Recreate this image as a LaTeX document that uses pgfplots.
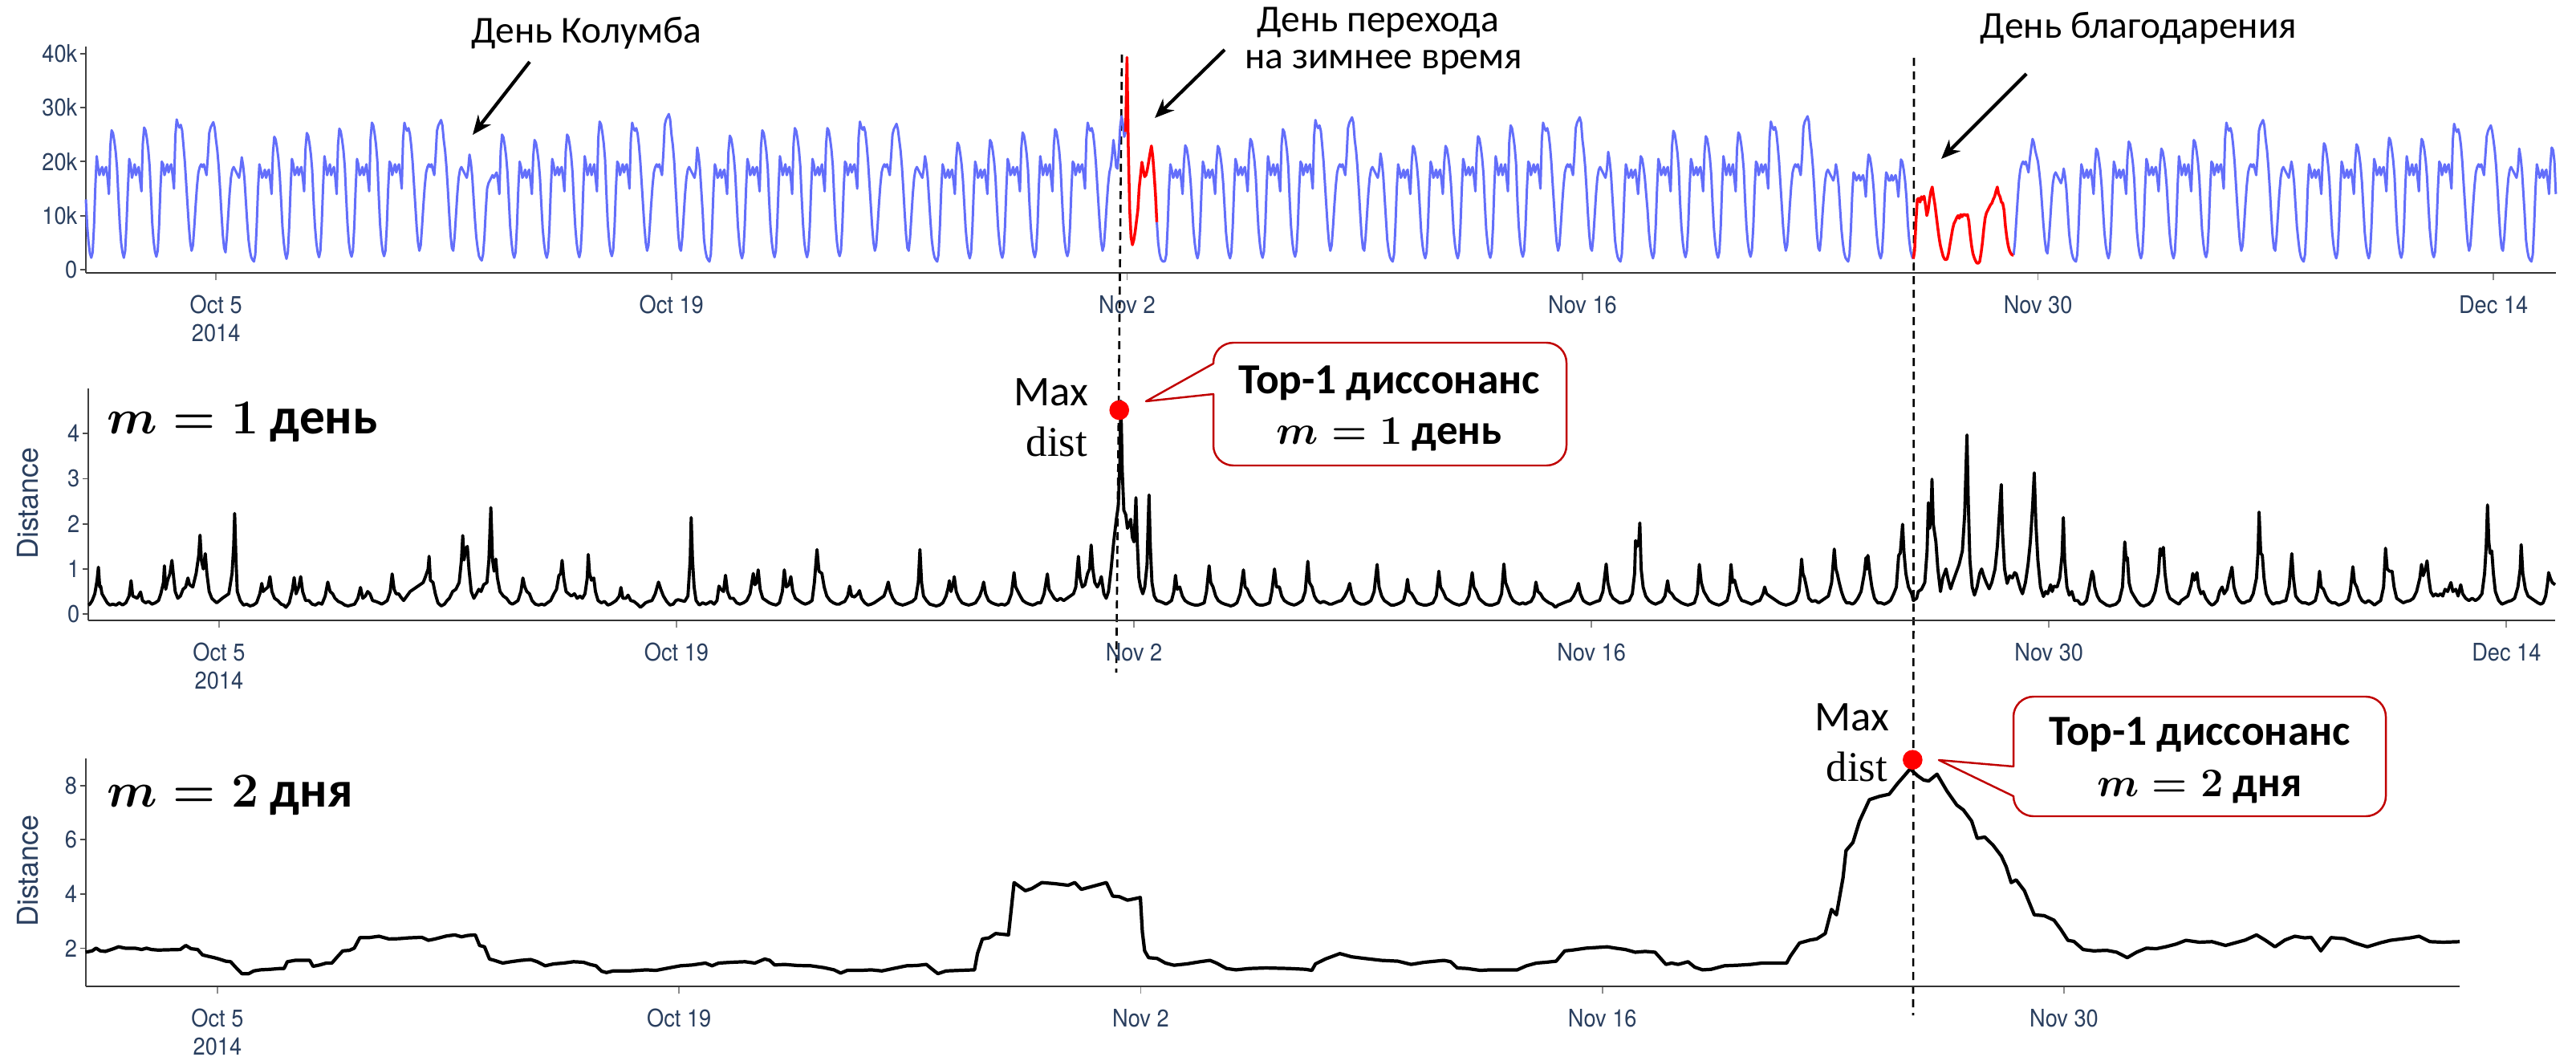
\documentclass[border=0pt]{standalone}
\usepackage{fontspec}
\usepackage{pgfplots}
\pgfplotsset{compat=1.18}
\usepackage{pgfplotstable}
\usetikzlibrary{arrows.meta}
\setmainfont{Carlito}
\newfontfamily\tickfont[FakeStretch=0.9]{TeX Gyre Heros}
\newfontfamily\labfont{TeX Gyre Heros}
\newfontfamily\distfont{Liberation Serif}
\definecolor{plotblue}{RGB}{99,110,250}
\definecolor{ticktext}{RGB}{42,63,95}
\definecolor{callred}{RGB}{192,0,0}

% NYC taxi passengers (thousands), hourly, Oct 1 2014 00:00 = row 0
\pgfplotstableread[row sep=\\,header=false]{
13\\8\\5\\3\\2.2\\3.2\\8\\15.5\\21\\19\\17.5\\18.5\\19\\17.5\\18.5\\19\\17\\14\\22.8\\25.8\\25.3\\23.8\\21.8\\18.8\\
13.5\\8.5\\5\\3.2\\2.2\\3.5\\8.5\\15\\20.5\\19.5\\17\\18\\19.5\\17.5\\18.5\\19\\16.5\\14.5\\23.3\\26.3\\25.8\\24.3\\22.3\\19.3\\
14\\8.5\\5.2\\3.3\\2.4\\3.5\\8\\15\\20\\19.5\\17.5\\18.5\\19.5\\18\\19\\19.5\\17.5\\15\\24.8\\27.8\\26.8\\26.3\\26.8\\25.8\\
23\\20\\16\\12\\8\\5\\3.5\\4.5\\8\\12\\15.5\\18\\19\\19.5\\19\\19.5\\18.5\\17.5\\21\\25.3\\26.3\\26.8\\27.3\\26.3\\
24\\22\\19\\15\\10.5\\6.5\\4\\3.2\\6\\10\\14\\17\\18.5\\19\\18.5\\18\\17.5\\17\\18.5\\20.8\\19.3\\16.8\\12.8\\8.8\\
5.5\\3.5\\2.3\\1.8\\1.5\\2.8\\8\\15\\19.5\\18.5\\17\\17.5\\18.5\\17\\18\\18.5\\16.5\\14\\21.6\\24.6\\24.1\\22.6\\20.6\\17.6\\
13\\8\\5\\3\\2\\3.2\\8\\15\\20.5\\19.5\\17.5\\18\\19\\17.5\\18.5\\19\\17\\14.5\\22.3\\25.3\\24.8\\23.3\\21.3\\18.3\\
12.5\\8\\5\\3.2\\2.3\\3.5\\8.5\\15.5\\21\\19.5\\17.5\\18.5\\19.5\\17.5\\18.5\\19\\17\\14\\23.1\\26.1\\25.6\\24.1\\22.1\\19.1\\
13.5\\8.5\\5\\3.2\\2.4\\3.5\\8\\15\\20.5\\19.5\\17.5\\18\\19\\17.5\\18.5\\19.5\\17\\14.5\\24.2\\27.2\\26.7\\25.2\\23.2\\20.2\\
14\\8.5\\5.2\\3.3\\2.5\\3.5\\8\\15\\20\\19.5\\17.5\\18.5\\19.5\\18\\19\\19.5\\17.5\\15\\24.2\\27.2\\26.2\\25.7\\26.2\\25.2\\
23\\20\\16\\12\\8\\5\\3.5\\4.5\\8\\12\\15.5\\18\\19\\19.5\\19\\19.5\\18.5\\17.5\\21\\25.7\\26.7\\27.2\\27.7\\26.7\\
24\\22\\19\\15\\10.5\\6.5\\4\\3.5\\6\\10\\14\\17\\18.5\\19\\18.5\\18\\17.5\\17\\18.5\\21.3\\19.8\\17.3\\13.3\\9.3\\
6\\4\\2.5\\2\\1.7\\2.8\\6\\11\\15\\16\\16.5\\17\\17.5\\17\\17.5\\18\\16.5\\14\\22\\25\\24.5\\23\\21\\18\\
13\\8\\5\\3\\2.2\\3.2\\8\\15\\20\\19\\17\\17.5\\18.5\\17\\18\\18.5\\16.5\\14\\21\\24\\23.5\\22\\20\\17\\
12\\7.5\\4.8\\3\\2.2\\3.3\\8\\15\\20.5\\19.5\\17.5\\18\\19\\17.5\\18.5\\19\\17\\14.5\\22\\25\\24.5\\23\\21\\18\\
12.5\\8\\5\\3.2\\2.3\\3.5\\8\\15.5\\21\\19.5\\17.5\\18.5\\19.5\\17.5\\18.5\\19.5\\17\\14.5\\24.4\\27.4\\26.9\\25.4\\23.4\\20.4\\
14\\8.5\\5.3\\3.3\\2.5\\3.6\\8\\15\\20\\19.5\\17.5\\18.5\\19.5\\18\\19\\19.5\\17.5\\15\\24.2\\27.2\\26.2\\25.7\\26.2\\25.2\\
23\\20\\16\\12\\8\\5\\3.5\\4.5\\8\\12\\15.5\\18\\19\\19.5\\19\\19.5\\18.5\\17.5\\21.5\\26.8\\27.8\\28.3\\28.8\\27.8\\
25\\23\\20\\15.5\\11\\6.5\\4\\3.5\\6\\10\\14\\17\\18.5\\19\\18.5\\18\\17.5\\17\\18.5\\22.6\\21.1\\18.6\\14.6\\10.6\\
5.5\\3.5\\2.3\\1.8\\1.5\\2.8\\8\\15\\19.5\\18.5\\17\\17.5\\18.5\\17\\18\\18.5\\16.5\\14\\21.8\\24.8\\24.3\\22.8\\20.8\\17.8\\
13\\8\\5\\3\\2.1\\3.2\\8\\15\\20.5\\19.5\\17.5\\18\\19\\17.5\\18.5\\19\\17\\14.5\\22.8\\25.8\\25.3\\23.8\\21.8\\18.8\\
13\\8\\5\\3.2\\2.3\\3.5\\8.5\\15.5\\21\\19.5\\17.5\\18.5\\19.5\\17.5\\18.5\\19\\17\\14\\23.2\\26.2\\25.7\\24.2\\22.2\\19.2\\
13.5\\8.5\\5\\3.2\\2.3\\3.5\\8\\15\\20.5\\19.5\\17.5\\18\\19\\17.5\\18.5\\19.5\\17\\14.5\\23.2\\26.2\\25.7\\24.2\\22.2\\19.2\\
13.5\\8.5\\5.2\\3.3\\2.5\\3.5\\8\\15\\20\\19.5\\17.5\\18.5\\19.5\\18\\19\\19.5\\17.5\\15\\24.4\\27.4\\26.4\\25.9\\26.4\\25.4\\
23\\20\\16\\12\\8\\5\\3.5\\4.5\\8\\12\\15.5\\18\\19\\19.5\\19\\19.5\\18.5\\17.5\\21\\25\\26\\26.5\\27\\26\\
24\\22\\19\\15\\10.5\\6.5\\4\\3.5\\6\\10\\14\\17\\18.5\\19\\18.5\\18\\17.5\\17\\18.5\\21\\19.5\\17\\13\\9\\
5.5\\3.5\\2.3\\1.8\\1.5\\2.8\\8\\15\\19.5\\18.5\\17\\17.5\\18.5\\17\\18\\18.5\\16.5\\14\\20.5\\23.5\\23\\21.5\\19.5\\16.5\\
12\\7.5\\4.8\\3\\2.1\\3.2\\8\\15\\20\\19\\17\\17.5\\18.5\\17\\18\\18.5\\16.5\\14\\21\\24\\23.5\\22\\20\\17\\
12\\7.5\\4.8\\3\\2.2\\3.3\\8\\15\\20.5\\19.5\\17.5\\18\\19\\17.5\\18.5\\19\\17\\14.5\\22.4\\25.4\\24.9\\23.4\\21.4\\18.4\\
12.5\\8\\5\\3.2\\2.3\\3.5\\8\\15.5\\21\\19.5\\17.5\\18.5\\19.5\\17.5\\18.5\\19.5\\17\\14.5\\23\\26\\25.5\\24\\22\\19\\
13.5\\8.5\\5.2\\3.3\\2.5\\3.5\\8\\15\\20\\19.5\\17.5\\18.5\\19.5\\18\\19\\19.5\\17.5\\15\\24.2\\27.2\\26.2\\25.7\\26.2\\25.2\\
23\\20\\16\\12\\8\\5\\3.5\\4.5\\8\\12\\15.5\\18\\19\\21\\24\\22\\19\\18.7\\22\\26.5\\28.4\\27\\24.6\\25.5\\
}\segA
% rows 790 .. 1348
\pgfplotstableread[row sep=\\,header=false]{
8.8\\5\\
3\\2\\1.6\\1.5\\1.6\\2.8\\8\\15\\19.5\\18.5\\17\\17.5\\18.5\\17\\18\\18.5\\16.5\\14\\20\\23\\22.5\\21\\19\\16\\
12\\7.5\\4.8\\3\\2.1\\3.2\\8\\15\\20\\19\\17\\17.5\\18.5\\17\\18\\18.5\\16.5\\14\\19.9\\22.9\\22.4\\20.9\\18.9\\15.9\\
11.5\\7\\4.5\\2.9\\2.1\\3.2\\8\\15\\20.5\\19.5\\17.5\\18\\19\\17.5\\18.5\\19\\17\\14.5\\21.2\\24.2\\23.7\\22.2\\20.2\\17.2\\
12\\7.5\\4.8\\3\\2.2\\3.3\\8\\15.5\\21\\19.5\\17.5\\18.5\\19.5\\17.5\\18.5\\19.5\\17\\14.5\\23\\26\\25.5\\24\\22\\19\\
13\\8\\5\\3.2\\2.4\\3.5\\8\\15\\20\\19.5\\17.5\\18.5\\19.5\\18\\19\\19.5\\17.5\\15\\24.7\\27.7\\26.7\\26.2\\26.7\\25.7\\
23\\20\\16\\12\\8\\5\\3.5\\4.5\\8\\12\\15.5\\18\\19\\19.5\\19\\19.5\\18.5\\17.5\\21\\26.2\\27.2\\27.7\\28.2\\27.2\\
24\\22\\19\\15\\10.5\\6.5\\4\\3.5\\6\\10\\14\\17\\18.5\\19\\18.5\\18\\17.5\\17\\18.5\\21.5\\20\\17.5\\13.5\\9.5\\
5.5\\3.5\\2.3\\1.8\\1.5\\2.8\\8\\15\\19.5\\18.5\\17\\17.5\\18.5\\17\\18\\18.5\\16.5\\14\\19.9\\22.9\\22.4\\20.9\\18.9\\15.9\\
11.5\\7\\4.5\\2.9\\2.1\\3.2\\8\\15\\20\\19\\17\\17.5\\18.5\\17\\18\\18.5\\16.5\\14\\19.9\\22.9\\22.4\\20.9\\18.9\\15.9\\
11.5\\7\\4.5\\2.9\\2.1\\3.2\\8\\15\\20.5\\19.5\\17.5\\18\\19\\17.5\\18.5\\19\\17\\14.5\\21.7\\24.7\\24.2\\22.7\\20.7\\17.7\\
12\\7.5\\4.8\\3\\2.2\\3.3\\8\\15.5\\21\\19.5\\17.5\\18.5\\19.5\\17.5\\18.5\\19.5\\17\\14.5\\23.7\\26.7\\26.2\\24.7\\22.7\\19.7\\
13\\8\\5\\3.2\\2.4\\3.5\\8\\15\\20\\19.5\\17.5\\18.5\\19.5\\18\\19\\19.5\\17.5\\15\\24.2\\27.2\\26.2\\25.7\\26.2\\25.2\\
23\\20\\16\\12\\8\\5\\3.5\\4.5\\8\\12\\15.5\\18\\19\\19.5\\19\\19.5\\18.5\\17.5\\21\\26.2\\27.2\\27.7\\28.2\\27.2\\
24\\22\\19\\15\\10.5\\6.5\\4\\3.5\\6\\10\\14\\17\\18.5\\19\\18.5\\18\\17.5\\17\\18.5\\21.8\\20.3\\17.8\\13.8\\9.8\\
5.5\\3.5\\2.3\\1.8\\1.5\\2.8\\8\\15\\19.5\\18.5\\17\\17.5\\18.5\\17\\18\\18.5\\16.5\\14\\18\\21\\20.5\\19\\17\\14\\
11\\7\\4.5\\2.9\\2.1\\3.2\\8\\15\\20.5\\19.5\\17.5\\18\\19\\17.5\\18.5\\19\\17\\14.5\\22.7\\25.7\\25.2\\23.7\\21.7\\18.7\\
12.5\\8\\5\\3.2\\2.3\\3.5\\8\\15\\20.5\\19.5\\17.5\\18\\19\\17.5\\18.5\\19\\17\\14.5\\21.7\\24.7\\24.2\\22.7\\20.7\\17.7\\
12\\7.5\\4.8\\3\\2.2\\3.3\\8\\15.5\\21\\19.5\\17.5\\18.5\\19.5\\17.5\\18.5\\19.5\\17\\14.5\\22.4\\25.4\\24.9\\23.4\\21.4\\18.4\\
12.5\\8\\5\\3.2\\2.4\\3.5\\8\\15\\20\\19.5\\17.5\\18.5\\19.5\\18\\19\\19.5\\17.5\\15\\24.4\\27.4\\26.4\\25.9\\26.4\\25.4\\
23\\20\\16\\12\\8\\5\\3.5\\4.5\\8\\12\\15.5\\18\\19\\19.5\\19\\19.5\\18.5\\17.5\\21\\26.4\\27.4\\27.9\\28.4\\27.4\\
24\\22\\19\\15\\10.5\\6.5\\4\\3.5\\6\\10\\13.5\\16.5\\18\\18.5\\18\\17.5\\17\\16.5\\17.5\\19.5\\18\\15.5\\11.5\\7.5\\
5\\3.2\\2.2\\1.8\\1.5\\2.8\\7.5\\14\\18\\17.5\\16.5\\17\\17.5\\16.5\\17\\17.5\\16\\13.5\\18.3\\21.3\\20.8\\19.3\\17.3\\14.3\\
10\\6.5\\4.2\\2.8\\2.1\\3.2\\7.5\\14\\18\\17.5\\16.5\\16.5\\17.5\\16.5\\17\\17.5\\16\\13.5\\17.4\\20.4\\19.9\\18.4\\16.4\\13.4\\
8.5\\5.5\\3.5\\2.5\\2.0\\
}\segB
% rows 1422 .. 1822
\pgfplotstableread[row sep=\\,header=false]{
2.7\\5\\9\\13\\16.5\\18.5\\19.5\\20\\19.5\\20\\19\\18\\20.5\\22.5\\24.2\\23.5\\22\\21\\
20\\18\\15.5\\12\\8.5\\5.5\\3.5\\3\\5.5\\9\\13\\16\\17.5\\18\\17.5\\17\\16.5\\16\\17\\18.7\\17.2\\14.7\\10.7\\6.7\\
4.5\\3\\2.1\\1.7\\1.5\\2.8\\8\\15\\19.5\\18.5\\17\\17.5\\18.5\\17\\18\\18.5\\16.5\\14\\19.4\\22.4\\21.9\\20.4\\18.4\\15.4\\
11\\7\\4.5\\2.9\\2.1\\3.2\\8\\15\\20\\19\\17\\17.5\\18.5\\17\\18\\18.5\\16.5\\14\\20.7\\23.7\\23.2\\21.7\\19.7\\16.7\\
11.5\\7\\4.5\\2.9\\2.1\\3.2\\8\\15\\20.5\\19.5\\17.5\\18\\19\\17.5\\18.5\\19\\17\\14.5\\19.4\\22.4\\21.9\\20.4\\18.4\\15.4\\
11\\7\\4.5\\2.9\\2.1\\3.2\\8\\15.5\\21\\19.5\\17.5\\18.5\\19.5\\17.5\\18.5\\19.5\\17\\14.5\\21\\24\\23.5\\22\\20\\17\\
12\\7.5\\4.8\\3\\2.3\\3.4\\8\\15\\20\\19.5\\17.5\\18.5\\19.5\\18\\19\\19.5\\17.5\\15\\24.2\\27.2\\26.2\\25.7\\26.2\\25.2\\
23\\20\\16\\12\\8\\5\\3.5\\4.5\\8\\12\\15.5\\18\\19\\19.5\\19\\19.5\\18.5\\17.5\\21\\25.7\\26.7\\27.2\\27.7\\26.7\\
24\\22\\19\\15\\10.5\\6.5\\4\\3.5\\6\\10\\14\\17\\18.5\\19\\18.5\\18\\17.5\\17\\18.5\\20\\18.5\\16\\12\\8\\
5.5\\3.5\\2.3\\1.8\\1.5\\2.8\\8\\15\\19.5\\18.5\\17\\17.5\\18.5\\17\\18\\18.5\\16.5\\14\\20.4\\23.4\\22.9\\21.4\\19.4\\16.4\\
11.5\\7\\4.5\\2.9\\2.1\\3.2\\8\\15\\20\\19\\17\\17.5\\18.5\\17\\18\\18.5\\16.5\\14\\20.2\\23.2\\22.7\\21.2\\19.2\\16.2\\
11.5\\7\\4.5\\2.9\\2.1\\3.2\\8\\15\\20.5\\19.5\\17.5\\18\\19\\17.5\\18.5\\19\\17\\14.5\\21.4\\24.4\\23.9\\22.4\\20.4\\17.4\\
12\\7.5\\4.8\\3\\2.2\\3.3\\8\\15.5\\21\\19.5\\17.5\\18.5\\19.5\\17.5\\18.5\\19.5\\17\\14.5\\21.2\\24.2\\23.7\\22.2\\20.2\\17.2\\
12\\7.5\\4.8\\3\\2.3\\3.4\\8\\15\\20\\19.5\\17.5\\18.5\\19.5\\18\\19\\19.5\\17.5\\15\\24\\27\\26\\25.5\\26\\25\\
23\\20\\16\\12\\8\\5\\3.5\\4.5\\8\\12\\15.5\\18\\19\\19.5\\19\\19.5\\18.5\\17.5\\21\\24.7\\25.7\\26.2\\26.7\\25.7\\
24\\22\\19\\15\\10.5\\6.5\\4\\3.5\\6\\10\\14\\17\\18.5\\19\\18.5\\18\\17.5\\17\\18.5\\22.4\\20.9\\18.4\\14.4\\10.4\\
5.5\\3.5\\2.3\\1.8\\1.5\\2.8\\8\\15\\19.5\\18.5\\17\\17.5\\18.5\\17\\18\\18.5\\16.5\\14\\19.6\\22.6\\22.1\\20\\14\\
}\segC
% anomaly Nov 2: rows 767 .. 790
\pgfplotstableread[row sep=\\,header=false]{
25.5\\39.3\\22\\11\\6\\4.6\\5.5\\7\\9\\11\\15.2\\17.5\\19.9\\18.5\\17.2\\17.5\\18.5\\20\\21.5\\22.9\\21\\17.7\\14\\8.8\\
}\redA
% anomaly Thanksgiving: rows 1348 .. 1422
\pgfplotstableread[row sep=\\,header=false]{
2.0\\3.5\\9\\13\\13.2\\12.5\\13.5\\13\\13.6\\12\\10\\11\\13\\14.5\\15.3\\13.5\\12\\10\\8\\6\\
4.5\\3.5\\2.5\\2.0\\1.8\\2.0\\3\\4.5\\6\\7.5\\8.5\\9\\9.6\\10\\9.5\\10.2\\9.8\\10.2\\10.2\\10\\10.2\\9\\6.5\\4.5\\
3\\2.2\\1.6\\1.2\\1.2\\1.5\\3\\5\\7.5\\9.5\\10.5\\11\\11.5\\12\\12.3\\13\\13.5\\14.5\\15.3\\14\\13.5\\12.5\\12.3\\11\\
8\\6\\4.5\\3.5\\3\\2.7\\2.7\\
}\redB

\pgfplotsset{
  panel/.style={
    scale only axis,
    axis x line*=bottom,
    axis y line*=left,
    tick align=outside,
    x axis line style={black!80, line width=0.7pt},
    y axis line style={black!75, line width=0.55pt},
    xtick style={black!45, line width=0.5pt, /pgfplots/major tick length=0.09cm},
    ytick style={black!70, line width=0.5pt, /pgfplots/major tick length=0.07cm},
    tick label style={text=ticktext, font=\tickfont\fontsize{8.6}{10}\selectfont, inner sep=0pt},
    xticklabel style={align=center, anchor=north, yshift=-0.125cm},
    yticklabel style={anchor=east, xshift=0.05cm},
    clip=false,
    xmin=0,
  }
}

\begin{document}
\begin{tikzpicture}[x=1cm,y=1cm]
\useasboundingbox (0,0) rectangle (32.10,-13.16);

% dashed guide lines
\draw[black, line width=0.75pt, dash pattern=on 0.1cm off 0.07cm] (13.98,-0.68) -- (13.91,-8.38);
\draw[black, line width=0.75pt, dash pattern=on 0.1cm off 0.07cm] (23.85,-0.72) -- (23.84,-12.65);

% ---------- top panel ----------
\begin{axis}[panel, at={(1.07cm,-3.40cm)}, anchor=south west,
  width=30.78cm, height=2.82cm,
  xmax=75.92, ymin=-0.6, ymax=41.3,
  ytick={0,10,20,30,40}, yticklabels={0,10k,20k,30k,40k},
  xtick={4,18,32,46,60,74},
  xticklabels={{Oct 5\\2014},{Oct 19},{Nov 2},{Nov 16},{Nov 30},{Dec 14}}]
\addplot[plotblue, line width=0.85pt, line join=round] table[x expr=\coordindex/24, y index=0] {\segA};
\addplot[plotblue, line width=0.85pt, line join=round] table[x expr=(\coordindex+790)/24, y index=0] {\segB};
\addplot[plotblue, line width=0.85pt, line join=round] table[x expr=(\coordindex+1422)/24, y index=0] {\segC};
\addplot[red, line width=1pt, line join=round] table[x expr=(\coordindex+767)/24, y index=0] {\redA};
\addplot[red, line width=1pt, line join=round] table[x expr=(\coordindex+1348)/24, y index=0] {\redB};
\end{axis}

% ---------- middle panel ----------
\begin{axis}[panel, at={(1.10cm,-7.73cm)}, anchor=south west,
  width=30.74cm, height=2.89cm,
  xmax=75.49, ymin=-0.14, ymax=5.0,
  ytick={0,1,2,3,4}, yticklabels={0,1,2,3,4},
  xtick={4,18,32,46,60,74},
  xticklabels={{Oct 5\\2014},{Oct 19},{Nov 2},{Nov 16},{Nov 30},{Dec 14}}]
\addplot[black, line width=1.1pt, line join=round] coordinates {
(0,0.2)(0.05,0.22)(0.12,0.3)(0.2,0.45)(0.27,0.75)(0.31,1.04)(0.35,0.6)(0.38,0.62)(0.42,0.45)(0.5,0.35)(0.58,0.25)(0.66,0.2)(0.75,0.22)(0.85,0.2)(0.95,0.25)
(1.05,0.2)(1.15,0.25)(1.25,0.4)(1.31,0.74)(1.36,0.4)(1.42,0.38)(1.5,0.35)(1.6,0.49)(1.66,0.3)(1.75,0.25)(1.85,0.28)(1.95,0.22)
(2.05,0.25)(2.15,0.3)(2.22,0.45)(2.3,0.7)(2.33,1.07)(2.37,0.55)(2.43,0.75)(2.5,0.9)(2.56,1.19)(2.6,0.9)(2.66,0.5)(2.74,0.35)(2.82,0.4)(2.9,0.55)(2.98,0.6)
(3.05,0.8)(3.1,0.65)(3.2,0.6)(3.3,0.9)(3.38,1.3)(3.42,1.75)(3.46,1.2)(3.52,1.0)(3.58,1.34)(3.63,0.9)(3.7,0.5)(3.78,0.35)(3.85,0.3)(3.93,0.25)
(4.02,0.3)(4.1,0.35)(4.2,0.4)(4.3,0.45)(4.4,0.9)(4.45,1.5)(4.48,2.23)(4.52,1.2)(4.56,0.5)(4.65,0.3)(4.75,0.2)(4.85,0.22)(4.95,0.18)
(5.05,0.2)(5.15,0.25)(5.25,0.45)(5.31,0.68)(5.35,0.5)(5.42,0.55)(5.5,0.6)(5.56,0.83)(5.62,0.5)(5.7,0.35)(5.8,0.3)(5.9,0.22)(5.98,0.2)
(6.05,0.15)(6.15,0.25)(6.25,0.55)(6.3,0.81)(6.36,0.45)(6.44,0.6)(6.5,0.83)(6.56,0.5)(6.65,0.3)(6.75,0.3)(6.85,0.22)(6.95,0.2)
(7.05,0.25)(7.15,0.22)(7.25,0.4)(7.33,0.71)(7.4,0.5)(7.48,0.45)(7.55,0.35)(7.65,0.28)(7.75,0.25)(7.85,0.2)(7.95,0.18)
(8.05,0.2)(8.15,0.22)(8.25,0.35)(8.33,0.59)(8.4,0.35)(8.48,0.4)(8.55,0.5)(8.62,0.45)(8.7,0.3)(8.8,0.28)(8.9,0.25)(8.98,0.22)
(9.05,0.25)(9.15,0.3)(9.24,0.5)(9.3,0.89)(9.36,0.55)(9.42,0.45)(9.5,0.45)(9.56,0.38)(9.65,0.3)(9.75,0.4)(9.85,0.5)(9.95,0.55)
(10.05,0.6)(10.15,0.65)(10.25,0.7)(10.33,0.85)(10.4,1.0)(10.43,1.28)(10.47,0.75)(10.55,0.7)(10.62,0.45)(10.7,0.25)(10.8,0.18)(10.9,0.22)(10.98,0.3)
(11.05,0.35)(11.15,0.5)(11.25,0.55)(11.35,0.7)(11.42,1.2)(11.46,1.74)(11.5,1.2)(11.55,1.45)(11.6,1.5)(11.65,1.0)(11.72,0.5)(11.8,0.35)(11.88,0.45)(11.95,0.55)
(12.02,0.5)(12.1,0.65)(12.2,0.7)(12.26,1.2)(12.32,2.36)(12.37,1.2)(12.42,0.95)(12.47,1.22)(12.52,0.8)(12.6,0.5)(12.7,0.4)(12.8,0.35)(12.9,0.25)(12.98,0.22)
(13.05,0.25)(13.15,0.3)(13.24,0.5)(13.3,0.8)(13.36,0.6)(13.42,0.5)(13.5,0.45)(13.58,0.3)(13.68,0.22)(13.78,0.2)(13.88,0.22)(13.96,0.2)
(14.05,0.25)(14.15,0.3)(14.25,0.45)(14.33,0.55)(14.4,0.85)(14.46,0.9)(14.5,1.19)(14.55,0.8)(14.62,0.5)(14.7,0.45)(14.78,0.4)(14.88,0.45)(14.96,0.35)
(15.05,0.4)(15.12,0.35)(15.2,0.45)(15.27,0.8)(15.3,1.32)(15.34,0.9)(15.4,0.75)(15.47,0.8)(15.52,0.5)(15.6,0.3)(15.7,0.25)(15.8,0.28)(15.9,0.2)(15.98,0.22)
(16.05,0.25)(16.15,0.3)(16.25,0.4)(16.3,0.59)(16.36,0.35)(16.45,0.35)(16.52,0.42)(16.6,0.3)(16.7,0.28)(16.8,0.22)(16.9,0.15)(16.98,0.2)
(17.05,0.25)(17.15,0.28)(17.25,0.3)(17.35,0.45)(17.45,0.71)(17.52,0.55)(17.6,0.4)(17.7,0.28)(17.8,0.2)(17.9,0.22)(17.98,0.3)
(18.05,0.32)(18.15,0.3)(18.25,0.28)(18.35,0.4)(18.42,1.2)(18.45,2.14)(18.49,1.2)(18.54,0.6)(18.6,0.3)(18.7,0.2)(18.8,0.25)(18.9,0.22)(18.98,0.25)
(19.05,0.28)(19.15,0.22)(19.24,0.3)(19.3,0.62)(19.36,0.55)(19.44,0.5)(19.5,0.86)(19.56,0.5)(19.64,0.35)(19.74,0.35)(19.84,0.25)(19.94,0.22)
(20.05,0.25)(20.15,0.3)(20.25,0.45)(20.35,0.9)(20.4,0.65)(20.45,0.7)(20.5,0.98)(20.56,0.55)(20.64,0.35)(20.74,0.3)(20.84,0.25)(20.94,0.22)
(21.05,0.2)(21.15,0.25)(21.24,0.5)(21.3,0.98)(21.36,0.6)(21.44,0.65)(21.5,0.83)(21.56,0.5)(21.64,0.35)(21.74,0.3)(21.84,0.25)(21.94,0.22)
(22.05,0.25)(22.15,0.3)(22.22,0.7)(22.3,1.43)(22.36,0.95)(22.45,0.9)(22.52,0.6)(22.6,0.4)(22.7,0.3)(22.8,0.25)(22.9,0.22)(22.98,0.22)
(23.05,0.25)(23.15,0.28)(23.24,0.4)(23.3,0.62)(23.36,0.4)(23.45,0.38)(23.55,0.45)(23.6,0.52)(23.66,0.35)(23.76,0.25)(23.86,0.2)(23.96,0.22)
(24.05,0.25)(24.15,0.3)(24.25,0.35)(24.35,0.4)(24.42,0.55)(24.48,0.71)(24.54,0.5)(24.62,0.35)(24.72,0.25)(24.82,0.22)(24.92,0.2)
(25.02,0.22)(25.12,0.25)(25.22,0.28)(25.32,0.35)(25.4,0.7)(25.45,1.43)(25.5,0.7)(25.56,0.4)(25.65,0.3)(25.75,0.22)(25.85,0.2)(25.95,0.18)
(26.05,0.2)(26.15,0.25)(26.25,0.4)(26.32,0.6)(26.35,0.74)(26.4,0.5)(26.46,0.65)(26.5,0.83)(26.56,0.5)(26.64,0.35)(26.74,0.25)(26.84,0.22)(26.94,0.2)
(27.05,0.22)(27.15,0.25)(27.28,0.4)(27.35,0.55)(27.4,0.71)(27.46,0.45)(27.55,0.3)(27.65,0.25)(27.75,0.22)(27.85,0.2)(27.95,0.22)
(28.05,0.2)(28.15,0.25)(28.25,0.45)(28.33,0.92)(28.38,0.6)(28.45,0.5)(28.52,0.4)(28.6,0.3)(28.7,0.25)(28.8,0.22)(28.9,0.2)(28.98,0.22)
(29.05,0.25)(29.15,0.25)(29.25,0.45)(29.35,0.89)(29.4,0.55)(29.48,0.45)(29.56,0.35)(29.65,0.3)(29.75,0.35)(29.85,0.3)(29.95,0.35)
(30.05,0.4)(30.15,0.45)(30.22,0.6)(30.3,1.28)(30.35,0.8)(30.42,0.6)(30.5,0.65)(30.58,0.9)(30.64,1.0)(30.69,1.53)(30.74,1.0)(30.8,0.7)(30.88,0.6)(30.95,0.7)
(31.0,0.83)(31.08,0.45)(31.15,0.35)(31.22,0.5)(31.3,1.0)(31.38,1.6)(31.46,2.1)(31.52,2.4)(31.57,3.4)(31.6,4.72)(31.64,3.2)(31.69,2.3)(31.75,2.2)(31.8,1.9)(31.86,2.0)(31.9,2.1)(31.95,1.7)(32.0,1.6)(32.04,2.2)(32.06,2.58)(32.1,1.6)(32.15,0.8)(32.2,0.6)(32.27,0.45)(32.33,0.6)(32.4,1.1)(32.43,1.9)(32.46,2.64)(32.5,1.5)(32.55,0.7)(32.62,0.4)(32.7,0.3)(32.8,0.28)(32.9,0.25)(32.98,0.22)
(33.05,0.25)(33.15,0.3)(33.22,0.5)(33.27,0.86)(33.32,0.55)(33.4,0.6)(33.48,0.4)(33.56,0.3)(33.66,0.25)(33.76,0.22)(33.86,0.2)(33.96,0.2)
(34.05,0.22)(34.15,0.25)(34.22,0.5)(34.3,1.07)(34.35,0.7)(34.42,0.6)(34.5,0.4)(34.58,0.3)(34.68,0.25)(34.78,0.22)(34.88,0.2)(34.96,0.18)
(35.05,0.2)(35.15,0.25)(35.25,0.45)(35.35,0.98)(35.4,0.6)(35.47,0.55)(35.55,0.4)(35.65,0.3)(35.75,0.22)(35.85,0.2)(35.95,0.2)
(36.05,0.22)(36.15,0.25)(36.22,0.5)(36.3,1.0)(36.36,0.6)(36.45,0.6)(36.52,0.4)(36.6,0.3)(36.7,0.25)(36.8,0.22)(36.9,0.2)(36.98,0.22)
(37.05,0.25)(37.15,0.3)(37.24,0.5)(37.32,1.17)(37.37,0.7)(37.45,0.6)(37.52,0.4)(37.6,0.3)(37.7,0.25)(37.8,0.28)(37.9,0.25)(37.98,0.22)
(38.05,0.22)(38.15,0.25)(38.25,0.28)(38.35,0.3)(38.45,0.4)(38.55,0.55)(38.6,0.68)(38.66,0.45)(38.75,0.3)(38.85,0.25)(38.95,0.22)
(39.05,0.22)(39.15,0.25)(39.25,0.3)(39.35,0.5)(39.44,1.1)(39.5,0.6)(39.58,0.4)(39.66,0.3)(39.76,0.25)(39.86,0.2)(39.96,0.2)
(40.05,0.22)(40.15,0.25)(40.25,0.3)(40.32,0.5)(40.37,0.77)(40.42,0.5)(40.5,0.45)(40.58,0.35)(40.66,0.25)(40.76,0.22)(40.86,0.2)(40.96,0.2)
(41.05,0.22)(41.15,0.25)(41.25,0.4)(41.33,0.95)(41.38,0.6)(41.46,0.5)(41.55,0.35)(41.65,0.3)(41.75,0.25)(41.85,0.22)(41.95,0.2)
(42.05,0.22)(42.15,0.25)(42.25,0.4)(42.35,0.92)(42.4,0.6)(42.48,0.5)(42.56,0.35)(42.66,0.28)(42.76,0.22)(42.86,0.2)(42.96,0.2)
(43.05,0.22)(43.15,0.25)(43.25,0.45)(43.32,1.11)(43.37,0.7)(43.45,0.55)(43.52,0.4)(43.6,0.3)(43.7,0.25)(43.8,0.22)(43.9,0.25)(43.98,0.22)
(44.05,0.25)(44.15,0.28)(44.24,0.4)(44.3,0.71)(44.36,0.5)(44.44,0.45)(44.52,0.35)(44.6,0.3)(44.7,0.25)(44.8,0.22)(44.9,0.15)(44.98,0.2)
(45.05,0.22)(45.15,0.25)(45.25,0.28)(45.35,0.3)(45.45,0.4)(45.55,0.55)(45.6,0.68)(45.66,0.45)(45.75,0.3)(45.85,0.25)(45.95,0.22)
(46.05,0.25)(46.15,0.28)(46.25,0.3)(46.35,0.5)(46.45,1.11)(46.5,0.7)(46.58,0.45)(46.66,0.35)(46.76,0.3)(46.86,0.25)(46.96,0.25)
(47.05,0.28)(47.15,0.3)(47.25,0.45)(47.32,0.9)(47.35,1.63)(47.4,1.5)(47.45,1.6)(47.48,2.02)(47.52,1.0)(47.58,0.6)(47.66,0.4)(47.76,0.3)(47.86,0.25)(47.96,0.22)
(48.05,0.25)(48.15,0.28)(48.25,0.4)(48.33,0.74)(48.38,0.5)(48.46,0.45)(48.55,0.35)(48.65,0.3)(48.75,0.25)(48.85,0.22)(48.95,0.2)
(49.05,0.22)(49.15,0.25)(49.24,0.45)(49.3,1.1)(49.36,0.7)(49.44,0.5)(49.52,0.4)(49.6,0.3)(49.7,0.25)(49.8,0.22)(49.9,0.2)(49.98,0.22)
(50.05,0.25)(50.15,0.3)(50.22,0.5)(50.27,1.1)(50.32,0.7)(50.38,0.75)(50.45,0.55)(50.52,0.4)(50.6,0.3)(50.7,0.28)(50.8,0.25)(50.9,0.22)(50.98,0.25)
(51.05,0.28)(51.15,0.3)(51.25,0.45)(51.3,0.6)(51.36,0.45)(51.45,0.4)(51.55,0.35)(51.65,0.3)(51.75,0.25)(51.85,0.22)(51.95,0.2)
(52.05,0.22)(52.15,0.25)(52.25,0.3)(52.35,0.5)(52.4,0.9)(52.43,1.22)(52.47,0.9)(52.52,0.8)(52.58,0.6)(52.65,0.35)(52.75,0.28)(52.85,0.3)(52.95,0.25)
(53.05,0.3)(53.15,0.35)(53.25,0.4)(53.35,0.7)(53.43,1.44)(53.48,1.0)(53.52,0.9)(53.58,0.7)(53.65,0.5)(53.72,0.35)(53.8,0.25)(53.9,0.25)(53.98,0.22)
(54.05,0.25)(54.15,0.35)(54.25,0.5)(54.35,0.9)(54.4,1.25)(54.43,1.0)(54.46,1.3)(54.52,0.9)(54.58,0.6)(54.66,0.35)(54.76,0.25)(54.86,0.25)(54.96,0.22)
(55.05,0.25)(55.15,0.3)(55.25,0.45)(55.33,0.6)(55.4,1.3)(55.45,1.35)(55.52,1.99)(55.56,1.4)(55.62,0.9)(55.7,0.6)(55.8,0.45)(55.85,0.3)(55.95,0.35)
(56.0,0.5)(56.1,0.55)(56.2,0.7)(56.27,1.4)(56.31,2.47)(56.35,1.9)(56.39,2.2)(56.42,2.99)(56.46,2.0)(56.54,1.6)(56.6,1.0)(56.68,0.5)(56.75,0.8)(56.85,1.0)(56.92,0.75)(56.99,0.56)
(57.05,0.7)(57.15,0.9)(57.25,1.1)(57.35,1.4)(57.42,2.2)(57.49,3.97)(57.53,2.5)(57.58,1.2)(57.65,0.6)(57.72,0.42)(57.8,0.6)(57.88,0.9)(57.94,1.0)(58.0,0.85)(58.08,0.7)(58.17,0.56)
(58.25,0.7)(58.35,1.0)(58.42,1.5)(58.48,2.2)(58.54,2.87)(58.58,1.8)(58.64,1.0)(58.72,0.68)(58.8,0.85)(58.88,0.8)(58.95,0.92)(59.0,0.89)(59.07,0.7)(59.13,0.55)(59.19,0.45)
(59.28,0.7)(59.36,1.1)(59.43,1.6)(59.5,2.4)(59.55,3.13)(59.6,2.0)(59.66,1.2)(59.74,0.6)(59.83,0.39)(59.9,0.5)(59.96,0.45)(60.05,0.65)(60.1,0.5)(60.15,0.62)
(60.25,0.6)(60.33,0.8)(60.4,1.3)(60.44,2.14)(60.48,1.2)(60.55,0.6)(60.62,0.42)(60.7,0.5)(60.78,0.3)(60.88,0.3)(60.96,0.22)
(61.05,0.22)(61.15,0.3)(61.22,0.55)(61.28,0.8)(61.32,0.95)(61.36,0.85)(61.4,0.6)(61.48,0.4)(61.56,0.3)(61.66,0.25)(61.76,0.2)(61.86,0.18)(61.96,0.2)
(62.05,0.22)(62.15,0.3)(62.25,0.6)(62.32,1.6)(62.36,1.2)(62.4,1.25)(62.45,0.7)(62.52,0.5)(62.6,0.4)(62.7,0.28)(62.8,0.2)(62.9,0.18)(62.98,0.2)
(63.05,0.22)(63.15,0.3)(63.25,0.5)(63.35,0.9)(63.4,1.45)(63.44,1.3)(63.5,1.48)(63.55,0.9)(63.62,0.5)(63.7,0.35)(63.8,0.3)(63.9,0.25)(63.98,0.22)
(64.05,0.3)(64.15,0.35)(64.25,0.4)(64.35,0.65)(64.4,0.9)(64.45,0.75)(64.53,0.92)(64.58,0.6)(64.65,0.45)(64.72,0.5)(64.8,0.35)(64.9,0.25)(64.98,0.2)
(65.05,0.22)(65.15,0.3)(65.22,0.5)(65.3,0.6)(65.36,0.45)(65.45,0.55)(65.52,0.8)(65.6,1.04)(65.66,0.6)(65.74,0.4)(65.82,0.3)(65.9,0.25)(65.98,0.25)
(66.05,0.28)(66.15,0.3)(66.25,0.45)(66.35,0.8)(66.4,1.4)(66.43,2.26)(66.48,1.35)(66.53,1.3)(66.58,0.8)(66.65,0.45)(66.75,0.3)(66.85,0.22)(66.95,0.25)
(67.05,0.25)(67.15,0.28)(67.25,0.3)(67.35,0.6)(67.43,1.34)(67.48,0.8)(67.55,0.4)(67.65,0.3)(67.75,0.25)(67.85,0.25)(67.95,0.22)
(68.05,0.25)(68.15,0.3)(68.22,0.5)(68.28,0.95)(68.33,0.6)(68.4,0.55)(68.48,0.4)(68.56,0.3)(68.66,0.25)(68.76,0.25)(68.86,0.2)(68.96,0.22)
(69.05,0.25)(69.15,0.3)(69.22,0.5)(69.3,1.05)(69.35,0.7)(69.42,0.6)(69.5,0.4)(69.58,0.3)(69.68,0.25)(69.78,0.3)(69.88,0.25)(69.96,0.2)
(70.05,0.25)(70.15,0.3)(70.24,0.6)(70.3,1.46)(70.35,1.0)(70.42,0.95)(70.5,0.95)(70.56,0.6)(70.64,0.35)(70.74,0.3)(70.84,0.25)(70.94,0.28)
(71.05,0.3)(71.15,0.35)(71.25,0.5)(71.35,0.8)(71.4,1.1)(71.45,0.85)(71.52,1.0)(71.57,1.18)(71.62,0.8)(71.68,0.5)(71.76,0.4)(71.84,0.45)(71.9,0.4)(71.98,0.45)
(72.05,0.4)(72.12,0.55)(72.2,0.5)(72.3,0.7)(72.36,0.5)(72.45,0.55)(72.52,0.4)(72.6,0.65)(72.66,0.45)(72.75,0.35)(72.85,0.3)(72.95,0.35)
(73.05,0.3)(73.15,0.35)(73.25,0.45)(73.33,0.9)(73.38,1.5)(73.42,2.42)(73.46,1.6)(73.5,1.35)(73.55,1.4)(73.6,0.9)(73.66,0.5)(73.76,0.3)(73.86,0.22)(73.96,0.25)
(74.05,0.28)(74.15,0.3)(74.25,0.35)(74.35,0.6)(74.42,1.0)(74.45,1.54)(74.5,0.9)(74.58,0.55)(74.66,0.4)(74.76,0.35)(74.86,0.3)(74.96,0.25)
(75.05,0.22)(75.12,0.25)(75.2,0.4)(75.26,0.7)(75.29,0.92)(75.34,0.8)(75.4,0.7)(75.49,0.65)
};
\addplot[only marks, mark=*, mark size=3.3pt, color=red] coordinates {(31.55,4.52)};
\end{axis}

% ---------- bottom panel ----------
\begin{axis}[panel, at={(1.066cm,-12.29cm)}, anchor=south west,
  width=29.584cm, height=2.84cm,
  xmax=72.0, ymin=0.59, ymax=9.0,
  ytick={2,4,6,8}, yticklabels={2,4,6,8},
  xtick={4,18,32,46,60},
  xticklabels={{Oct 5\\2014},{Oct 19},{Nov 2},{Nov 16},{Nov 30}}]
\addplot[black, line width=1.2pt, line join=round] coordinates {
(0,1.85)(0.2,1.9)(0.32,2.0)(0.45,1.9)(0.6,1.88)(0.85,1.98)(1.0,2.05)(1.2,2.0)(1.5,2.0)(1.7,1.95)(1.85,2.0)(2.0,1.95)(2.2,1.93)(2.5,1.94)(2.87,1.95)(3.04,2.1)(3.2,1.98)(3.4,1.95)(3.55,1.75)(3.72,1.7)(3.9,1.65)(4.05,1.6)(4.25,1.52)(4.4,1.5)(4.55,1.3)(4.74,1.06)(4.95,1.06)(5.1,1.16)(5.3,1.2)(5.6,1.22)(5.9,1.25)(6.02,1.25)(6.12,1.5)(6.35,1.55)(6.8,1.55)(6.9,1.33)(7.1,1.38)(7.3,1.45)(7.47,1.45)(7.65,1.7)(7.8,1.9)(8.0,1.92)(8.15,2.0)(8.32,2.39)(8.6,2.39)(8.9,2.44)(9.2,2.34)(9.5,2.35)(9.8,2.38)(10.2,2.4)(10.4,2.29)(10.6,2.34)(10.95,2.45)(11.2,2.49)(11.4,2.42)(11.6,2.47)(11.82,2.49)(11.95,2.1)(12.1,2.05)(12.25,1.6)(12.4,1.55)(12.65,1.45)(12.9,1.5)(13.2,1.55)(13.5,1.58)(13.7,1.5)(13.94,1.35)(14.2,1.42)(14.5,1.45)(14.8,1.5)(15.1,1.48)(15.3,1.4)(15.48,1.35)(15.65,1.15)(15.8,1.1)(16.0,1.16)(16.5,1.16)(17.0,1.2)(17.3,1.18)(17.6,1.25)(18.04,1.35)(18.4,1.38)(18.8,1.45)(19.0,1.35)(19.2,1.45)(19.6,1.48)(20.0,1.5)(20.3,1.45)(20.6,1.6)(20.75,1.55)(20.9,1.38)(21.2,1.4)(21.6,1.36)(22.0,1.35)(22.4,1.28)(22.7,1.2)(22.9,1.08)(23.1,1.18)(23.5,1.18)(23.83,1.2)
(24.15,1.16)(24.5,1.25)(24.9,1.35)(25.2,1.36)(25.5,1.4)(25.7,1.2)(25.85,1.06)(26.1,1.16)(26.5,1.18)(26.96,1.2)(27.05,1.8)(27.2,2.34)(27.4,2.38)(27.6,2.54)(27.99,2.49)(28.08,3.5)(28.16,4.42)(28.5,4.12)(28.7,4.2)(29.0,4.42)(29.4,4.38)(29.8,4.32)(30.0,4.42)(30.2,4.17)(30.6,4.3)(30.96,4.42)(31.15,3.92)(31.35,3.9)(31.6,3.77)(31.8,3.82)(31.99,3.87)(32.05,2.6)(32.12,1.9)(32.24,1.65)(32.5,1.62)(32.75,1.45)(33.01,1.37)(33.4,1.42)(33.8,1.5)(34.1,1.55)(34.3,1.45)(34.6,1.25)(34.89,1.2)(35.3,1.25)(35.8,1.27)(36.5,1.25)(37.0,1.22)(37.19,1.18)(37.3,1.42)(37.6,1.6)(38.04,1.8)(38.4,1.68)(38.8,1.62)(39.3,1.55)(39.8,1.52)(40.2,1.4)(40.6,1.48)(41.2,1.55)(41.4,1.5)(41.6,1.27)(41.9,1.25)(42.3,1.18)(42.6,1.2)(43.0,1.2)(43.42,1.2)(43.7,1.35)(44.0,1.45)(44.3,1.48)(44.6,1.52)(44.86,1.9)(45.1,1.93)(45.5,2.0)(46.15,2.05)(46.4,2.0)(46.7,1.95)(47.0,1.85)(47.3,1.88)(47.6,1.85)(47.93,1.4)(48.1,1.45)(48.3,1.4)(48.6,1.5)(48.8,1.3)(49.04,1.2)(49.3,1.22)(49.7,1.35)(50.1,1.37)(50.5,1.4)(50.84,1.45)
(51.2,1.45)(51.59,1.45)(51.7,1.7)(51.98,2.19)(52.3,2.3)(52.5,2.34)(52.76,2.54)(52.95,3.43)(53.1,3.23)(53.3,4.6)(53.39,5.6)(53.6,5.9)(53.8,6.69)(54.1,7.48)(54.4,7.6)(54.7,7.68)(54.95,8.07)(55.15,8.35)(55.34,8.62)(55.55,8.37)(55.75,8.2)(55.9,8.17)(56.15,8.42)(56.45,7.8)(56.75,7.28)(56.95,7.1)(57.2,6.69)(57.37,6.05)(57.6,6.1)(57.85,5.8)(58.1,5.4)(58.25,5.0)(58.4,4.42)(58.55,4.52)(58.8,4.12)(59.1,3.23)(59.4,3.2)(59.7,3.03)(59.9,2.7)(60.12,2.29)(60.3,2.25)(60.58,1.95)(60.9,1.9)(61.3,1.92)(61.6,1.85)(61.92,1.65)(62.2,1.85)(62.5,2.0)(62.8,1.98)(63.08,2.05)(63.4,2.15)(63.7,2.29)(64.1,2.22)(64.49,2.24)(64.9,2.1)(65.2,2.2)(65.5,2.3)(65.84,2.49)(66.1,2.3)(66.4,2.05)(66.7,2.3)(67.0,2.44)(67.3,2.38)(67.5,2.4)(67.79,1.9)(68.1,2.39)(68.5,2.35)(68.8,2.2)(69.2,2.05)(69.6,2.2)(69.9,2.29)(70.3,2.35)(70.5,2.38)(70.77,2.44)(71.1,2.24)(71.5,2.22)(72.0,2.24)
};
\addplot[only marks, mark=*, mark size=3.3pt, color=red] coordinates {(55.41,8.95)};
\end{axis}

% ---------- y labels ----------
\node[rotate=90, font=\labfont\fontsize{10.2}{12}\selectfont, text=ticktext] at (0.35,-6.27) {Distance};
\node[rotate=90, font=\labfont\fontsize{10.2}{12}\selectfont, text=ticktext] at (0.35,-10.85) {Distance};

% ---------- panel labels ----------
\node[anchor=base west, inner sep=0pt, font=\bfseries\fontsize{18}{22}\selectfont] at (1.33,-5.40) {{\boldmath$m=1$} день};
\node[anchor=base west, inner sep=0pt, font=\bfseries\fontsize{18}{22}\selectfont] at (1.33,-10.05) {{\boldmath$m=2$} дня};

% ---------- top annotations ----------
\node[anchor=base, inner sep=0pt, font=\fontsize{13.5}{16}\selectfont] at (7.31,-0.53) {День Колумба};
\node[anchor=base, inner sep=0pt, font=\fontsize{13.5}{16}\selectfont] at (17.17,-0.39) {День перехода};
\node[anchor=base, inner sep=0pt, font=\fontsize{13.5}{16}\selectfont] at (17.24,-0.85) {на зимнее время};
\node[anchor=base, inner sep=0pt, font=\fontsize{13.5}{16}\selectfont] at (26.65,-0.47) {День благодарения};
\draw[black, line width=1.2pt, -{Stealth[length=0.24cm,width=0.2cm]}] (6.60,-0.77) -- (5.89,-1.68);
\draw[black, line width=1.2pt, -{Stealth[length=0.24cm,width=0.2cm]}] (15.26,-0.62) -- (14.39,-1.47);
\draw[black, line width=1.2pt, -{Stealth[length=0.24cm,width=0.2cm]}] (25.25,-0.92) -- (24.19,-1.98);

% ---------- Max dist ----------
\node[anchor=base, inner sep=0pt, font=\fontsize{15}{18}\selectfont] at (13.10,-5.05) {Max};
\node[anchor=base, inner sep=0pt, font=\distfont\fontsize{15}{18}\selectfont] at (13.17,-5.68) {dist};
\node[anchor=base, inner sep=0pt, font=\fontsize{15}{18}\selectfont] at (23.08,-9.10) {Max};
\node[anchor=base, inner sep=0pt, font=\distfont\fontsize{15}{18}\selectfont] at (23.14,-9.73) {dist};

% ---------- callouts ----------
\draw[callred, line width=0.7pt, fill=white, line join=round]
  (15.12,-4.53) -- (14.28,-5.00) -- (15.12,-4.91)
  {[rounded corners=0.25cm] -- (15.12,-5.80) -- (19.52,-5.80) -- (19.52,-4.27) -- (15.12,-4.27)} -- cycle;
\node[anchor=base, inner sep=0pt, font=\bfseries\fontsize{15.2}{18}\selectfont] at (17.31,-4.90) {Top-1 диссонанс};
\node[anchor=base, inner sep=0pt, font=\bfseries\fontsize{15}{18}\selectfont] at (17.31,-5.53) {{\boldmath$m=1$} день};

\draw[callred, line width=0.7pt, fill=white, line join=round]
  (25.09,-9.55) -- (24.16,-9.47) -- (25.09,-9.92)
  {[rounded corners=0.25cm] -- (25.09,-10.17) -- (29.73,-10.17) -- (29.73,-8.68) -- (25.09,-8.68)} -- cycle;
\node[anchor=base, inner sep=0pt, font=\bfseries\fontsize{15.2}{18}\selectfont] at (27.41,-9.28) {Top-1 диссонанс};
\node[anchor=base, inner sep=0pt, font=\bfseries\fontsize{15}{18}\selectfont] at (27.41,-9.92) {{\boldmath$m=2$} дня};
\end{tikzpicture}
\end{document}
